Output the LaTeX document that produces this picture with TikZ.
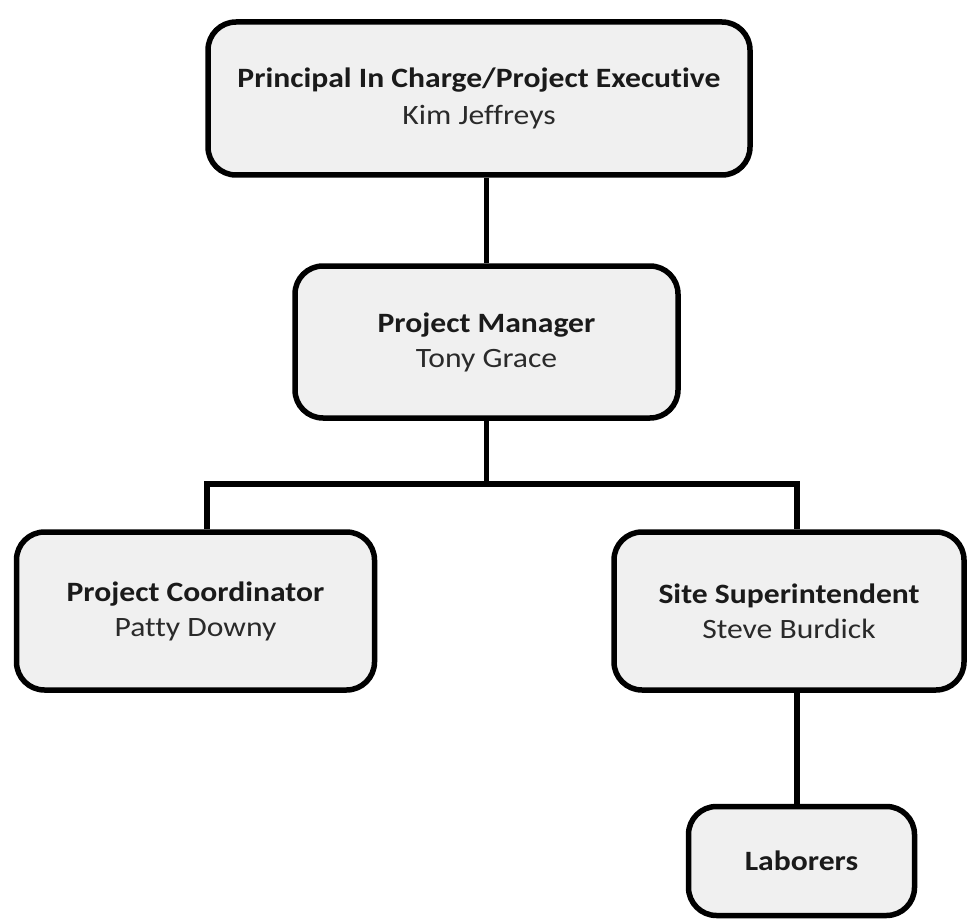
\documentclass[tikz,border=0pt]{standalone}
\usepackage{fontspec}
\setmainfont{Carlito}[FakeStretch=1.13, Ligatures=NoCommon]
\definecolor{boxfill}{HTML}{F0F0F0}
\definecolor{txt}{HTML}{1A1A1A}
\definecolor{nametxt}{HTML}{2A2A2A}
\begin{document}
\begin{tikzpicture}[x=1pt,y=-1pt,
  orgbox/.style={draw=black, line width=5.5pt, fill=boxfill, rounded corners=28pt, text=txt,
    align=center, font=\fontsize{28}{35}\selectfont},
  conn/.style={draw=black, line width=5.5pt}]
\useasboundingbox (0,0) rectangle (972,920);
\fill[white] (0,0) rectangle (972,920);
% boxes (corner coordinates are the centre of the border line)
\node[orgbox, minimum width=542pt, minimum height=153pt, font=\fontsize{28}{37}\selectfont] (top) at (479,98.5)
  {\textbf{Principal In Charge/Project Executive}\\\textcolor{nametxt}{Kim Jeffreys}};
\node[orgbox, minimum width=383pt, minimum height=152pt] (pm) at (486.5,342)
  {\textbf{Project Manager}\\\textcolor{nametxt}{Tony Grace}};
\node[orgbox, minimum width=358pt, minimum height=158pt] (pc) at (195.5,611)
  {\textbf{Project Coordinator}\\\textcolor{nametxt}{Patty Downy}};
\node[orgbox, minimum width=350pt, minimum height=158pt] (ss) at (789,611)
  {\textbf{Site Superintendent}\\\textcolor{nametxt}{Steve Burdick}};
\node[orgbox, minimum width=226pt, minimum height=109pt] (lab) at (801.5,861)
  {\textbf{Laborers}};
% junction coordinates
\coordinate (jl) at (207,484);
\coordinate (jr) at (797,484);
\coordinate (jm) at (486.5,484);
% connectors
\draw[conn] (pm.north |- top.south) -- (pm.north);
\draw[conn] (pm.south) -- (jm);
\draw[conn, line join=miter] (jl |- pc.north) -- (jl) -- (jr) -- (jr |- ss.north);
\draw[conn] (jr |- ss.south) -- (jr |- lab.north);
\end{tikzpicture}
\end{document}
